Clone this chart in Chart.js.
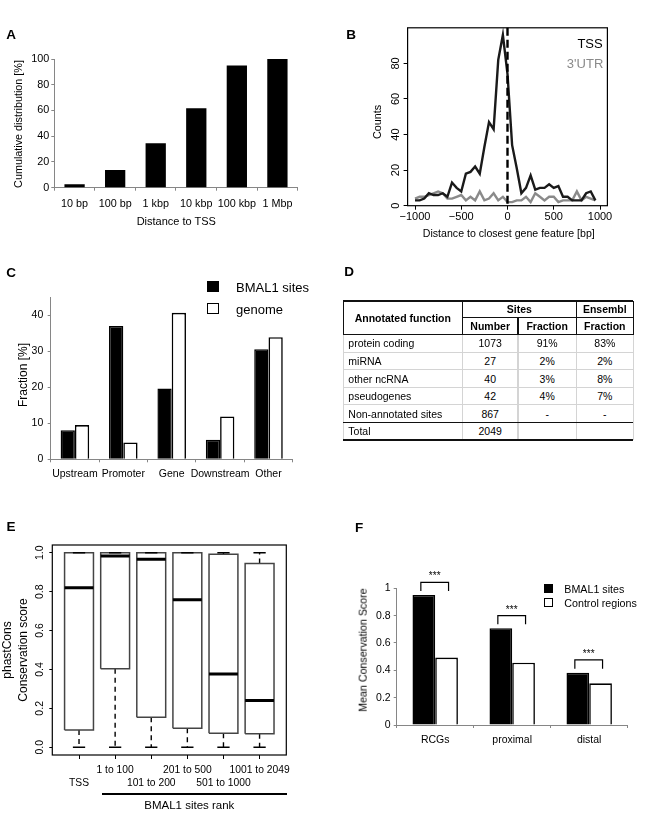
<!DOCTYPE html>
<html>
<head>
<meta charset="utf-8">
<script src="https://cdn.jsdelivr.net/npm/chart.js@4.4.1/dist/chart.umd.min.js"></script>
<style>
  html, body { margin:0; padding:0; background:#fff; }
  body { position:relative; width:653px; height:815px; overflow:hidden; font-family:"Liberation Sans", Arial, Helvetica, sans-serif; color:#000; }
  canvas { position:absolute; }
  .txt { position:absolute; white-space:nowrap; line-height:1; }
  .sq { position:absolute; box-sizing:border-box; }
  .ln { position:absolute; }
</style>
</head>
<body>
<canvas id="chartA"></canvas>
<canvas id="chartB"></canvas>
<canvas id="chartC"></canvas>
<canvas id="chartE"></canvas>
<canvas id="chartF"></canvas>
<script>
// ================= DATA =================
// Panel A
const distanceCategories = ['10 bp', '100 bp', '1 kbp', '10 kbp', '100 kbp', '1 Mbp'];
const cumulativePercent = [2.6, 13.7, 34.5, 61.7, 95.0, 100.0];
const aYTicks = [0, 20, 40, 60, 80, 100];

// Panel B
const featureDistance = [-1000, -950, -900, -850, -800, -750, -700, -650, -600, -550, -500, -450, -400, -350, -300, -250, -200, -150, -100, -50, 0, 50, 100, 150, 200, 250, 300, 350, 400, 450, 500, 550, 600, 650, 700, 750, 800, 850, 900, 950];
const tssCounts = [3, 3, 4, 7, 6, 6, 7, 5, 13, 10, 8, 18, 19, 22, 18, 33, 47, 43, 82, 96, 74, 34, 21, 7, 10, 17, 9, 10, 10, 12, 10, 11, 5, 5, 3, 3, 3, 7, 8, 3];
const utrCounts = [4, 5, 5, 6, 7, 8, 7, 4, 4, 5, 6, 3, 5, 3, 8, 3, 4, 7, 3, 5, 2, 2, 3, 3, 5, 2, 7, 5, 3, 5, 5, 2, 3, 3, 3, 8, 3, 5, 4, 3];
const bXTicks = [-1000, -500, 0, 500, 1000];
const bYTicks = [0, 20, 40, 60, 80];
const bSeriesNames = ['TSS', "3'UTR"];
const bMarkerAt = 0;

// Panel C
const regionCategories = ['Upstream', 'Promoter', 'Gene', 'Downstream', 'Other'];
const bmal1Fraction = [8.1, 37.0, 19.7, 5.4, 30.6];
const genomeFraction = [9.5, 4.7, 40.7, 11.9, 33.9];
const cYTicks = [0, 10, 20, 30, 40];
const cSeriesNames = ['BMAL1 sites', 'genome'];

// Panel D (table)
const annotatedFunction = ['protein coding', 'miRNA', 'other ncRNA', 'pseudogenes', 'Non-annotated sites', 'Total'];
const siteNumber = ['1073', '27', '40', '42', '867', '2049'];
const siteFraction = ['91%', '2%', '3%', '4%', '-', ''];
const ensemblFraction = ['83%', '2%', '8%', '7%', '-', ''];

// Panel E (box plot summary)
const rankGroups = ['TSS', '1 to 100', '101 to 200', '201 to 500', '501 to 1000', '1001 to 2049'];
const boxLow = [0, 0, 0, 0, 0, 0];
const boxQ1 = [0.089, 0.403, 0.154, 0.098, 0.072, 0.069];
const boxMedian = [0.820, 0.983, 0.967, 0.758, 0.377, 0.240];
const boxQ3 = [1.0, 1.0, 1.0, 1.0, 0.992, 0.945];
const boxHigh = [1.0, 1.0, 1.0, 1.0, 1.0, 1.0];
const eYTicks = [0, 0.2, 0.4, 0.6, 0.8, 1.0];

// Panel F
const fCategories = ['RCGs', 'proximal', 'distal'];
const fBmal1 = [0.951, 0.707, 0.383];
const fControl = [0.493, 0.456, 0.305];
const fSignif = ['***', '***', '***'];
const fYTicks = [0, 0.2, 0.4, 0.6, 0.8, 1];
const fSeriesNames = ['BMAL1 sites', 'Control regions'];

// ================= HELPERS =================
const FONT = '"Liberation Sans", Arial, Helvetica, sans-serif';
Chart.defaults.font.family = FONT;
Chart.defaults.color = '#000';
Chart.defaults.animation = false;
const AXIS_GRAY = '#868686';

function setupCanvas(id, r) {
  const c = document.getElementById(id);
  c.width = r.w; c.height = r.h;
  c.style.left = r.x + 'px'; c.style.top = r.y + 'px';
  c.style.width = r.w + 'px'; c.style.height = r.h + 'px';
  return c;
}
function frameOf(r, a) {
  return {
    padding: { left: 0, bottom: 0, top: a.t - r.y, right: r.x + r.w - a.r },
    yW: a.l - r.x,
    xH: r.y + r.h - a.b
  };
}
function addText(str, x, y, o) {
  o = o || {};
  const d = document.createElement('div');
  d.className = 'txt';
  d.textContent = str;
  d.style.fontSize = (o.size || 11) + 'px';
  if (o.bold) d.style.fontWeight = 'bold';
  if (o.color) d.style.color = o.color;
  d.style.left = x + 'px'; d.style.top = y + 'px';
  const tx = o.align === 'left' ? '0' : (o.align === 'right' ? '-100%' : '-50%');
  d.style.transform = 'translate(' + tx + ',-50%)' + (o.rotate ? ' rotate(-90deg)' : '');
  document.body.appendChild(d);
  return d;
}
function addSquare(x, y, w, h, fill, border) {
  const d = document.createElement('div');
  d.className = 'sq';
  d.style.left = x + 'px'; d.style.top = y + 'px';
  d.style.width = w + 'px'; d.style.height = h + 'px';
  d.style.background = fill;
  d.style.border = border;
  document.body.appendChild(d);
}
function hline(x1, x2, y, w, color) {
  const d = document.createElement('div');
  d.className = 'ln';
  d.style.left = x1 + 'px'; d.style.top = (y - w / 2) + 'px';
  d.style.width = (x2 - x1) + 'px'; d.style.height = w + 'px';
  d.style.background = color;
  document.body.appendChild(d);
}
function vline(x, y1, y2, w, color) {
  const d = document.createElement('div');
  d.className = 'ln';
  d.style.left = (x - w / 2) + 'px'; d.style.top = y1 + 'px';
  d.style.width = w + 'px'; d.style.height = (y2 - y1) + 'px';
  d.style.background = color;
  document.body.appendChild(d);
}
const baseOpts = (pad) => ({
  responsive: false, maintainAspectRatio: false, devicePixelRatio: 1, animation: false,
  layout: { padding: pad },
  plugins: { legend: { display: false }, tooltip: { enabled: false } }
});
const framePlugin = {
  id: 'frame',
  afterDraw(chart) {
    const { ctx, chartArea: a } = chart;
    ctx.save(); ctx.strokeStyle = '#000'; ctx.lineWidth = 1.2;
    ctx.strokeRect(a.left, a.top, a.right - a.left, a.bottom - a.top);
    ctx.restore();
  }
};
const setTicks = (arr) => (s) => { s.ticks = arr.map(v => ({ value: v })); };

// ================= PANEL LETTERS =================
addText('A', 11, 35, { size: 13.5, bold: true });
addText('B', 351, 35, { size: 13.5, bold: true });
addText('C', 11, 273, { size: 13.5, bold: true });
addText('D', 349, 272, { size: 13.5, bold: true });
addText('E', 11, 527, { size: 13.5, bold: true });
addText('F', 359, 528, { size: 13.5, bold: true });

// ================= PANEL A =================
(function () {
  const r = { x: 0, y: 40, w: 320, h: 200 };
  const a = { l: 54.3, t: 59, r: 297.7, b: 187.7 };
  const f = frameOf(r, a);
  const o = baseOpts(f.padding);
  o.scales = {
    x: {
      type: 'category', afterFit: s => { s.height = f.xH; },
      grid: { drawOnChartArea: false, drawTicks: true, tickLength: 3, color: AXIS_GRAY, offset: true },
      border: { color: AXIS_GRAY },
      ticks: { padding: 7, font: { size: 10.8 }, autoSkip: false, maxRotation: 0, minRotation: 0 }
    },
    y: {
      min: 0, max: 100, afterFit: s => { s.width = f.yW; }, afterBuildTicks: setTicks(aYTicks),
      grid: { drawOnChartArea: false, drawTicks: true, tickLength: 3, color: AXIS_GRAY },
      border: { color: AXIS_GRAY },
      ticks: { padding: 2, font: { size: 10.8 } }
    }
  };
  new Chart(setupCanvas('chartA', r), {
    type: 'bar',
    data: { labels: distanceCategories, datasets: [{ data: cumulativePercent, backgroundColor: '#000', borderColor: '#000', borderWidth: 0, barPercentage: 0.5, categoryPercentage: 1 }] },
    options: o
  });
  addText('Cumulative distribution [%]', 18.3, 124, { size: 10.8, rotate: true });
  addText('Distance to TSS', 176.3, 221, { size: 11 });
})();

// ================= PANEL B =================
(function () {
  const r = { x: 340, y: 20, w: 313, h: 230 };
  const a = { l: 407.6, t: 27.3, r: 607.4, b: 205.7 };
  const f = frameOf(r, a);
  const o = baseOpts(f.padding);
  o.scales = {
    x: {
      type: 'linear', min: -1080, max: 1080, afterFit: s => { s.height = f.xH; }, afterBuildTicks: setTicks(bXTicks),
      grid: { drawOnChartArea: false, drawTicks: true, tickLength: 4, color: '#000' },
      border: { display: false },
      ticks: { padding: 1, font: { size: 11 }, maxRotation: 0, minRotation: 0, callback: v => String(v).replace('-', '\u2212') }
    },
    y: {
      min: 0, max: 100, afterFit: s => { s.width = f.yW; }, afterBuildTicks: setTicks(bYTicks),
      grid: { drawOnChartArea: false, drawTicks: true, tickLength: 4, color: '#000' },
      border: { display: false },
      ticks: { padding: 1.2, font: { size: 11 }, minRotation: 90, maxRotation: 90, crossAlign: 'center' }
    }
  };
  const markerPlugin = {
    id: 'marker',
    afterDatasetsDraw(chart) {
      const { ctx, chartArea: ca } = chart;
      const x = chart.scales.x.getPixelForValue(bMarkerAt);
      ctx.save(); ctx.strokeStyle = '#000'; ctx.lineWidth = 2.4; ctx.setLineDash([8, 4]);
      ctx.beginPath(); ctx.moveTo(x, ca.top); ctx.lineTo(x, ca.bottom); ctx.stroke(); ctx.restore();
    }
  };
  new Chart(setupCanvas('chartB', r), {
    type: 'line',
    data: {
      datasets: [
        { label: bSeriesNames[0], data: featureDistance.map((d, i) => ({ x: d, y: tssCounts[i] })), borderColor: '#1a1a1a', borderWidth: 2.4, pointRadius: 0, tension: 0, fill: false },
        { label: bSeriesNames[1], data: featureDistance.map((d, i) => ({ x: d, y: utrCounts[i] })), borderColor: '#8a8a8a', borderWidth: 2.4, pointRadius: 0, tension: 0, fill: false }
      ]
    },
    options: o,
    plugins: [framePlugin, markerPlugin]
  });
  addText('Counts', 376.7, 122, { size: 10.8, rotate: true });
  addText('Distance to closest gene feature [bp]', 508.8, 233.3, { size: 10.6 });
  addText(bSeriesNames[0], 602.7, 42.7, { size: 13, align: 'right' });
  addText(bSeriesNames[1], 603.3, 62.7, { size: 13, align: 'right', color: '#8a8a8a' });
})();

// ================= PANEL C =================
(function () {
  const r = { x: 0, y: 265, w: 320, h: 225 };
  const a = { l: 50.7, t: 297.3, r: 292.7, b: 459.3 };
  const f = frameOf(r, a);
  const o = baseOpts(f.padding);
  o.scales = {
    x: {
      type: 'category', afterFit: s => { s.height = f.xH; },
      grid: { drawOnChartArea: false, drawTicks: true, tickLength: 3, color: AXIS_GRAY, offset: true },
      border: { color: AXIS_GRAY },
      ticks: { padding: 5.5, font: { size: 10.5 }, autoSkip: false, maxRotation: 0, minRotation: 0 }
    },
    y: {
      min: 0, max: 45, afterFit: s => { s.width = f.yW; }, afterBuildTicks: setTicks(cYTicks),
      grid: { drawOnChartArea: false, drawTicks: true, tickLength: 3, color: AXIS_GRAY },
      border: { color: AXIS_GRAY },
      ticks: { padding: 4.4, font: { size: 10.5 } }
    }
  };
  new Chart(setupCanvas('chartC', r), {
    type: 'bar',
    data: {
      labels: regionCategories,
      datasets: [
        { label: cSeriesNames[0], data: bmal1Fraction, backgroundColor: '#000', borderColor: '#000', borderWidth: 1.5, barPercentage: 1, categoryPercentage: 0.59 },
        { label: cSeriesNames[1], data: genomeFraction, backgroundColor: '#fff', borderColor: '#000', borderWidth: 1.6, barPercentage: 1, categoryPercentage: 0.59 }
      ]
    },
    options: o
  });
  addText('Fraction  [%]', 23.3, 375, { size: 12, rotate: true });
  addSquare(207.3, 280.7, 12, 11, '#000', '1.5px solid #000');
  addSquare(207.3, 303.3, 12, 11, '#fff', '1.5px solid #000');
  addText(cSeriesNames[0], 236, 286.7, { size: 13, align: 'left' });
  addText(cSeriesNames[1], 236, 309.3, { size: 13, align: 'left' });
})();

// ================= PANEL D (table) =================
(function () {
  const colX = [343.3, 462.3, 518, 576.3, 633.3];
  const headY = [301, 317.5, 334.5];
  const rowH = 17.6;
  const fs = 10.5;
  const BLACK = '#111', GRAY = '#d4d4d4';
  const cellText = (s, c0, c1, y0, y1, o) => {
    o = o || {};
    if (o.left) addText(s, colX[c0] + 5, (y0 + y1) / 2, { size: fs, bold: o.bold, align: 'left' });
    else addText(s, (colX[c0] + colX[c1]) / 2, (y0 + y1) / 2, { size: fs, bold: o.bold });
  };
  cellText('Annotated function', 0, 1, headY[0], headY[2], { bold: true });
  cellText('Sites', 1, 3, headY[0], headY[1], { bold: true });
  cellText('Ensembl', 3, 4, headY[0], headY[1], { bold: true });
  cellText('Number', 1, 2, headY[1], headY[2], { bold: true });
  cellText('Fraction', 2, 3, headY[1], headY[2], { bold: true });
  cellText('Fraction', 3, 4, headY[1], headY[2], { bold: true });
  const yEnd = headY[2] + rowH * annotatedFunction.length;
  annotatedFunction.forEach((name, i) => {
    const y0 = headY[2] + rowH * i, y1 = y0 + rowH;
    cellText(name, 0, 1, y0, y1, { left: true });
    cellText(siteNumber[i], 1, 2, y0, y1);
    cellText(siteFraction[i], 2, 3, y0, y1);
    cellText(ensemblFraction[i], 3, 4, y0, y1);
  });
  colX.forEach(x => vline(x, headY[2], yEnd, 1.5, GRAY));
  for (let i = 1; i < annotatedFunction.length - 1; i++) hline(colX[0], colX[4], headY[2] + rowH * i, 1.2, GRAY);
  hline(colX[0], colX[4], headY[0], 1.3, BLACK);
  vline(colX[0], headY[0], headY[2], 1.3, BLACK);
  vline(colX[1], headY[0], headY[2], 1.3, BLACK);
  vline(colX[3], headY[0], headY[2], 1.3, BLACK);
  vline(colX[4], headY[0], headY[2], 1.3, BLACK);
  vline(colX[2], headY[1], headY[2], 1.3, BLACK);
  hline(colX[1], colX[4], headY[1], 1.3, BLACK);
  hline(colX[0], colX[4], headY[2], 1.6, BLACK);
  hline(colX[0], colX[4], headY[2] + rowH * (annotatedFunction.length - 1), 1.6, BLACK);
  hline(colX[0], colX[4], yEnd, 2.6, BLACK);
})();

// ================= PANEL E =================
(function () {
  const r = { x: 0, y: 500, w: 320, h: 315 };
  const a = { l: 52.3, t: 545, r: 286.3, b: 755 };
  const f = frameOf(r, a);
  const o = baseOpts(f.padding);
  const rankPos = rankGroups.map((g, i) => i + 1);
  o.scales = {
    x: {
      type: 'linear', min: 0.26, max: 6.74, afterFit: s => { s.height = f.xH; }, afterBuildTicks: setTicks(rankPos),
      grid: { drawOnChartArea: false, drawTicks: true, tickLength: 4, color: '#000' },
      border: { display: false },
      ticks: {
        padding: 4.5, font: { size: 10.3, lineHeight: 1.25 }, autoSkip: false, maxRotation: 0, minRotation: 0,
        callback: v => { const i = Math.round(v) - 1; return i % 2 === 0 ? ['', rankGroups[i]] : [rankGroups[i], '']; }
      }
    },
    y: {
      min: -0.04, max: 1.04, afterFit: s => { s.width = f.yW; }, afterBuildTicks: setTicks(eYTicks),
      grid: { drawOnChartArea: false, drawTicks: true, tickLength: 3, color: '#000' },
      border: { display: false },
      ticks: { padding: 2, font: { size: 10.5 }, minRotation: 90, maxRotation: 90, crossAlign: 'center', callback: v => v.toFixed(1) }
    }
  };
  const boxHalf = 0.4, capHalf = 0.17;
  const boxPts = [], medPts = [], whiskPts = [], capPts = [];
  rankPos.forEach((x, i) => {
    boxPts.push({ x: x - boxHalf, y: boxQ1[i] }, { x: x + boxHalf, y: boxQ1[i] }, { x: x + boxHalf, y: boxQ3[i] }, { x: x - boxHalf, y: boxQ3[i] }, { x: x - boxHalf, y: boxQ1[i] }, { x: x, y: null });
    medPts.push({ x: x - boxHalf, y: boxMedian[i] }, { x: x + boxHalf, y: boxMedian[i] }, { x: x, y: null });
    whiskPts.push({ x: x, y: boxQ1[i] }, { x: x, y: boxLow[i] }, { x: x, y: null });
    if (boxHigh[i] > boxQ3[i]) whiskPts.push({ x: x, y: boxQ3[i] }, { x: x, y: boxHigh[i] }, { x: x, y: null });
    capPts.push({ x: x - capHalf, y: boxLow[i] }, { x: x + capHalf, y: boxLow[i] }, { x: x, y: null });
    capPts.push({ x: x - capHalf, y: boxHigh[i] }, { x: x + capHalf, y: boxHigh[i] }, { x: x, y: null });
  });
  const ls = (data, color, w, dash) => ({ data, borderColor: color, borderWidth: w, borderDash: dash || [], pointRadius: 0, showLine: true, spanGaps: false, tension: 0, fill: false, borderCapStyle: 'butt' });
  new Chart(setupCanvas('chartE', r), {
    type: 'scatter',
    data: { datasets: [ls(medPts, '#000', 3), ls(capPts, '#000', 1.4), ls(boxPts, '#444', 1.5), ls(whiskPts, '#000', 1.4, [5, 4])] },
    options: o,
    plugins: [framePlugin]
  });
  addText('phastCons', 7.3, 650, { size: 12, rotate: true });
  addText('Conservation score', 23.3, 650, { size: 12, rotate: true });
  hline(101.7, 287.3, 794, 1.1, '#000');
  addText('BMAL1 sites rank', 189.3, 806, { size: 11.5 });
})();

// ================= PANEL F =================
(function () {
  const r = { x: 340, y: 550, w: 313, h: 215 };
  const a = { l: 396.7, t: 588.3, r: 627.7, b: 725 };
  const f = frameOf(r, a);
  const o = baseOpts(f.padding);
  o.scales = {
    x: {
      type: 'category', afterFit: s => { s.height = f.xH; },
      grid: { drawOnChartArea: false, drawTicks: true, tickLength: 3, color: AXIS_GRAY, offset: true },
      border: { color: AXIS_GRAY },
      ticks: { padding: 5.5, font: { size: 10.5 }, autoSkip: false, maxRotation: 0, minRotation: 0 }
    },
    y: {
      min: 0, max: 1, afterFit: s => { s.width = f.yW; }, afterBuildTicks: setTicks(fYTicks),
      grid: { drawOnChartArea: false, drawTicks: true, tickLength: 3, color: AXIS_GRAY },
      border: { color: AXIS_GRAY },
      ticks: { padding: 3, font: { size: 10.5 }, callback: v => String(parseFloat(v.toFixed(1))) }
    }
  };
  const bracketPlugin = {
    id: 'brackets',
    afterDatasetsDraw(chart) {
      const ctx = chart.ctx;
      const m0 = chart.getDatasetMeta(0), m1 = chart.getDatasetMeta(1);
      ctx.save(); ctx.strokeStyle = '#000'; ctx.lineWidth = 1.2; ctx.fillStyle = '#000';
      ctx.font = '10px ' + FONT; ctx.textAlign = 'center'; ctx.textBaseline = 'alphabetic';
      fCategories.forEach((c, i) => {
        const x0 = m0.data[i].x - 3, x1 = m1.data[i].x + 2;
        const barTop = Math.min(m0.data[i].y, m1.data[i].y);
        const top = barTop - 12.7, leg = barTop - 4;
        ctx.beginPath(); ctx.moveTo(x0, leg); ctx.lineTo(x0, top); ctx.lineTo(x1, top); ctx.lineTo(x1, leg); ctx.stroke();
        ctx.fillText(fSignif[i], (x0 + x1) / 2, top - 3);
      });
      ctx.restore();
    }
  };
  new Chart(setupCanvas('chartF', r), {
    type: 'bar',
    data: {
      labels: fCategories,
      datasets: [
        { label: fSeriesNames[0], data: fBmal1, backgroundColor: '#000', borderColor: '#000', borderWidth: 1.5, barPercentage: 1, categoryPercentage: 0.59 },
        { label: fSeriesNames[1], data: fControl, backgroundColor: '#fff', borderColor: '#000', borderWidth: 1.6, barPercentage: 1, categoryPercentage: 0.59 }
      ]
    },
    options: o,
    plugins: [bracketPlugin]
  });
  addText('Mean Conservation Score', 363.3, 650, { size: 10.7, rotate: true });
  addSquare(544.3, 584.3, 8.5, 8.5, '#000', '1.3px solid #000');
  addSquare(544.3, 598.3, 8.5, 8.5, '#fff', '1.3px solid #000');
  addText(fSeriesNames[0], 564.3, 588.7, { size: 10.7, align: 'left' });
  addText(fSeriesNames[1], 564.3, 602.7, { size: 10.7, align: 'left' });
})();
</script>
</body>
</html>
